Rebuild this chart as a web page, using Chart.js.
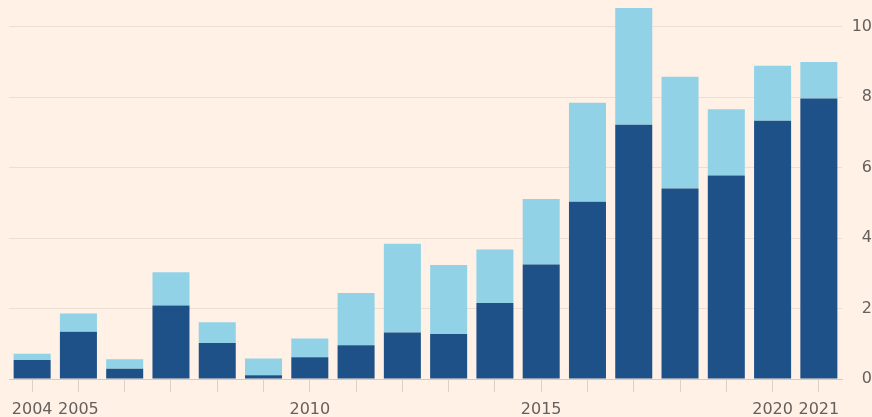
<!DOCTYPE html>
<html>
<head>
<meta charset="utf-8">
<script src="https://cdn.jsdelivr.net/npm/chart.js@4/dist/chart.umd.min.js"></script>
<style>
  html, body { margin: 0; padding: 0; background: #fff1e5; }
  #wrap { width: 872px; height: 417px; }
</style>
</head>
<body>
<div id="wrap"><canvas id="chart"></canvas></div>
<script>
const years = ['2004', '2005', '2006', '2007', '2008', '2009', '2010', '2011', '2012',
  '2013', '2014', '2015', '2016', '2017', '2018', '2019', '2020', '2021'];
const shownYears = ['2004', '2005', '2010', '2015', '2020', '2021'];
// dark segment (bottom)
const darkValues = [0.54, 1.34, 0.29, 2.09, 1.02, 0.11, 0.62, 0.96, 1.32,
  1.28, 2.16, 3.25, 5.03, 7.22, 5.41, 5.78, 7.33, 7.96];
// light segment (stacked on top)
const lightValues = [0.18, 0.52, 0.27, 0.94, 0.59, 0.47, 0.53, 1.48, 2.52,
  1.96, 1.52, 1.86, 2.81, 3.31, 3.17, 1.88, 1.56, 1.04];
const yTicks = [0, 2, 4, 6, 8, 10];

const labelFont = { family: 'DejaVu Sans', size: 16 };
const textColor = '#66605c';

new Chart(document.getElementById('chart'), {
  type: 'bar',
  data: {
    labels: years,
    datasets: [{
      data: darkValues,
      backgroundColor: '#1e5188',
      barPercentage: 0.8,
      categoryPercentage: 1
    }, {
      data: lightValues,
      backgroundColor: '#91d2e6',
      barPercentage: 0.8,
      categoryPercentage: 1
    }]
  },
  options: {
    responsive: true,
    maintainAspectRatio: false,
    animation: false,
    layout: { padding: { left: 9, right: 0, top: 0, bottom: 0 } },
    plugins: {
      legend: { display: false },
      tooltip: { enabled: false }
    },
    scales: {
      x: {
        stacked: true,
        afterFit: (scale) => {
          scale.height = 38;
          scale.paddingLeft = 0;
          scale.paddingRight = 0;
        },
        grid: {
          offset: false,
          drawOnChartArea: false,
          color: '#dcd1c7',
          tickLength: 13
        },
        border: { display: true, color: '#d6cbc1' },
        ticks: {
          autoSkip: false,
          maxRotation: 0,
          padding: 8,
          color: textColor,
          font: labelFont,
          callback: function(value) {
            const y = years[value];
            return shownYears.includes(y) ? y : '';
          }
        }
      },
      y: {
        stacked: true,
        position: 'right',
        min: 0,
        max: 10.76,
        afterBuildTicks: (scale) => {
          scale.ticks = yTicks.map(v => ({ value: v }));
        },
        afterFit: (scale) => {
          scale.width = 30;
          scale.paddingTop = 0;
          scale.paddingBottom = 0;
        },
        grid: {
          drawTicks: false,
          color: '#ebded2'
        },
        border: { display: false },
        ticks: {
          padding: 4,
          crossAlign: 'far',
          color: textColor,
          font: labelFont
        }
      }
    }
  }
});
</script>
</body>
</html>
